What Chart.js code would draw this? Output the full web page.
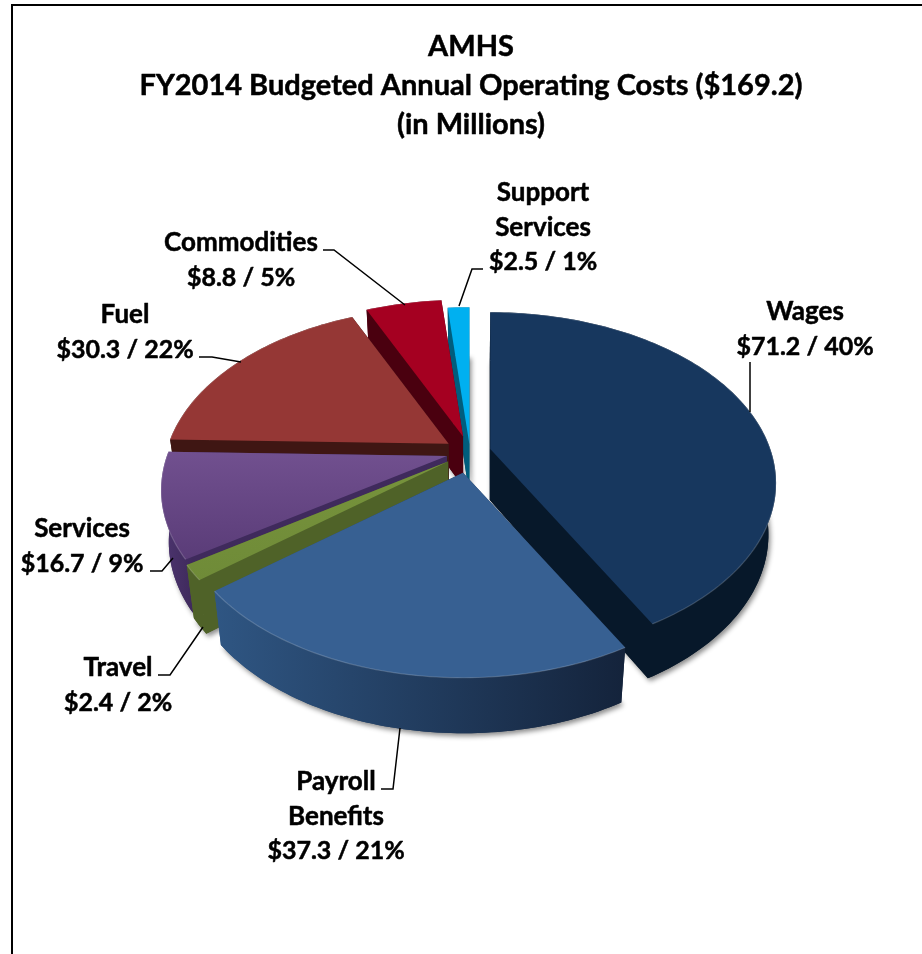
<!DOCTYPE html>
<html>
<head>
<meta charset="utf-8">
<title>AMHS FY2014</title>
<script src="https://cdn.jsdelivr.net/npm/chart.js@4/dist/chart.umd.min.js"></script>
<style>
  html, body { margin: 0; padding: 0; background: #fff; overflow: hidden; }
  canvas { display: block; }
</style>
</head>
<body>
<canvas id="myChart" width="922" height="954"></canvas>
<script>
// Datos
const titleLines = ['AMHS', 'FY2014 Budgeted Annual Operating Costs ($169.2)', '(in Millions)'];
const categories = ['Wages', 'Payroll Benefits', 'Travel', 'Services', 'Fuel', 'Commodities', 'Support Services'];
const amounts = [71.2, 37.3, 2.4, 16.7, 30.3, 8.8, 2.5];
const percents = [40, 21, 2, 9, 22, 5, 1];

// Colores por porcion
const topColors = ['#17375E', '#376092', '#77933C', '#71508F', '#953735', '#A50021', '#00B0F0'];
const topEnds = ['#17375E', '#376092', '#6F8B38', '#5A3C78', '#953735', '#A50021', '#00B0F0'];
const sideColors = ['#07182A', '#2F5683', '#4F6228', '#4D3570', '#3F1613', '#4A000F', '#005D7D'];
const sideEnds = ['#07182A', '#14233B', '#4F6228', '#3F2A5C', '#3F1613', '#4A000F', '#005D7D'];

// Separacion de cada porcion (Chart.js desplaza offset / 4)
const sliceOffsets = [84, 140, 108, 96, 104, 112, 56];
// Orden de pintado, de atras hacia adelante
const drawOrder = [6, 5, 4, 3, 2, 0, 1];

// Etiquetas: lineas de texto, centro, y guia
const labelLines = [
  ['Wages'],
  ['Payroll', 'Benefits'],
  ['Travel'],
  ['Services'],
  ['Fuel'],
  ['Commodities'],
  ['Support', 'Services']
];
const labelX = [805, 336, 118, 82, 125, 241, 543];
const labelY = [312, 782, 668, 529, 315, 243, 193];
const leaders = [
  [[750, 362], [750, 412]],
  [[381, 789], [393, 789], [400, 728]],
  [[158, 675], [170, 675], [203, 627]],
  [[150, 571], [162, 571], [173, 558]],
  [[199, 357], [212, 357], [241, 362]],
  [[323, 250], [334, 250], [405, 305]],
  [[483, 269], [472, 269], [459, 306]]
];

const FONT = 'Lato, "Open Sans", sans-serif';
const SQUASH = 0.586;
const PERSPECTIVE = 0.2;

// Pasa un punto del plano del pie a la vista inclinada
function project(el, px, py) {
    const w = 1 + PERSPECTIVE * (el.y - py) / el.outerRadius;
    return [el.x + (px - el.x) / w, el.y - (el.y - py) * SQUASH / w];
}

// Cara inferior del cilindro
function lower(el, p) {
    return [el.x + (p[0] - el.x) * 0.975, p[1] + 51 + (p[1] - el.y) * 0.02];
}

function rimPoints(el) {
    const mid = (el.startAngle + el.endAngle) / 2;
    const off = el.options.offset / 4;
    const tip = project(el, el.x + Math.cos(mid) * off, el.y + Math.sin(mid) * off);
    const dx = tip[0] - el.x;
    const dy = tip[1] - el.y;
    const steps = Math.max(4, Math.ceil((el.endAngle - el.startAngle) / 0.02));
    const rim = [];
    for (let s = 0; s <= steps; s++) {
        const a = el.startAngle + (el.endAngle - el.startAngle) * s / steps;
        const p = project(el, el.x + Math.cos(a) * el.outerRadius, el.y + Math.sin(a) * el.outerRadius);
        rim.push([p[0] + dx, p[1] + dy]);
    }
    return { tip: tip, rim: rim };
}

function fillPoly(ctx, pts) {
    ctx.beginPath();
    pts.forEach((p, i) => i ? ctx.lineTo(p[0], p[1]) : ctx.moveTo(p[0], p[1]));
    ctx.closePath();
    ctx.fill();
}

function drawSlice(ctx, el, i) {
    const { tip, rim } = rimPoints(el);
    const top = [tip].concat(rim);
    const bottom = top.map(p => lower(el, p));
    const band = rim.concat(rim.map(p => lower(el, p)).reverse());
    const first = rim[0];
    const last = rim[rim.length - 1];
    const xs = band.map(p => p[0]);
    const ys = top.map(p => p[1]);

    const side = ctx.createLinearGradient(Math.min(...xs), 0, Math.max(...xs), 0);
    side.addColorStop(0, sideColors[i]);
    side.addColorStop(1, sideEnds[i]);

    // Sombra suave bajo la porcion
    ctx.save();
    ctx.shadowColor = 'rgba(0,0,0,0.45)';
    ctx.shadowBlur = 5;
    ctx.shadowOffsetX = 2;
    ctx.shadowOffsetY = 3;
    ctx.fillStyle = side;
    fillPoly(ctx, bottom);
    ctx.restore();

    ctx.fillStyle = side;
    fillPoly(ctx, [tip, first, lower(el, first), lower(el, tip)]);
    fillPoly(ctx, [tip, last, lower(el, last), lower(el, tip)]);
    fillPoly(ctx, band);

    const face = ctx.createLinearGradient(0, Math.min(...ys), 0, Math.max(...ys));
    face.addColorStop(0, topColors[i]);
    face.addColorStop(1, topEnds[i]);
    ctx.fillStyle = face;
    fillPoly(ctx, top);

    // Brillo del borde
    ctx.save();
    ctx.strokeStyle = 'rgba(255,255,255,0.18)';
    ctx.lineWidth = 1.2;
    ctx.beginPath();
    rim.forEach((p, k) => k ? ctx.lineTo(p[0], p[1]) : ctx.moveTo(p[0], p[1]));
    ctx.stroke();
    ctx.restore();
}

// Texto con un trazo fino para acercarse al peso del original
function boldText(ctx, txt, x, y) {
    ctx.fillText(txt, x, y);
    ctx.strokeText(txt, x, y);
}

const pie3d = {
    id: 'pie3d',
    beforeDraw(chart) {
        const ctx = chart.ctx;
        ctx.save();
        ctx.fillStyle = '#000';
        ctx.fillRect(11, 4, 911, 2);
        ctx.fillRect(11, 4, 2, 950);
        ctx.restore();
    },
    // Los arcos del pie se dibujan en perspectiva con su geometria de Chart.js
    beforeDatasetDraw(chart, args) {
        const ctx = chart.ctx;
        const arcs = args.meta.data;
        drawOrder.forEach(i => drawSlice(ctx, arcs[i], i));
        return false;
    },
    afterDraw(chart) {
        const ctx = chart.ctx;
        ctx.save();
        ctx.strokeStyle = '#000';
        ctx.lineWidth = 1.5;
        leaders.forEach(line => {
            ctx.beginPath();
            line.forEach((p, k) => k ? ctx.lineTo(p[0], p[1]) : ctx.moveTo(p[0], p[1]));
            ctx.stroke();
        });
        ctx.fillStyle = '#000';
        ctx.lineWidth = 0.5;
        ctx.lineJoin = 'round';
        ctx.textAlign = 'center';
        ctx.textBaseline = 'middle';

        ctx.font = 'bold 29px ' + FONT;
        titleLines.forEach((txt, k) => boldText(ctx, txt, 471, 47 + k * 39));

        categories.forEach((name, i) => {
            const names = labelLines[i];
            ctx.font = 'bold 26px ' + FONT;
            names.forEach((txt, k) => boldText(ctx, txt, labelX[i], labelY[i] + k * 34.5));
            ctx.font = 'bold 25px ' + FONT;
            boldText(ctx, '$' + amounts[i].toFixed(1) + ' / ' + percents[i] + '%', labelX[i], labelY[i] + names.length * 34.5);
        });
        ctx.restore();
    }
};

const ctx = document.getElementById('myChart').getContext('2d');

const myChart = new Chart(ctx, {
    type: 'pie',
    data: {
        labels: categories,
        datasets: [{
            data: amounts,
            backgroundColor: topColors,
            offset: sliceOffsets,
            borderWidth: 0
        }]
    },
    options: {
        responsive: false,
        animation: false,
        radius: 280,
        layout: { padding: { left: 18, right: 0, top: 152, bottom: 202 } },
        plugins: {
            legend: { display: false },
            tooltip: { enabled: false }
        }
    },
    plugins: [pie3d]
});
</script>
</body>
</html>
